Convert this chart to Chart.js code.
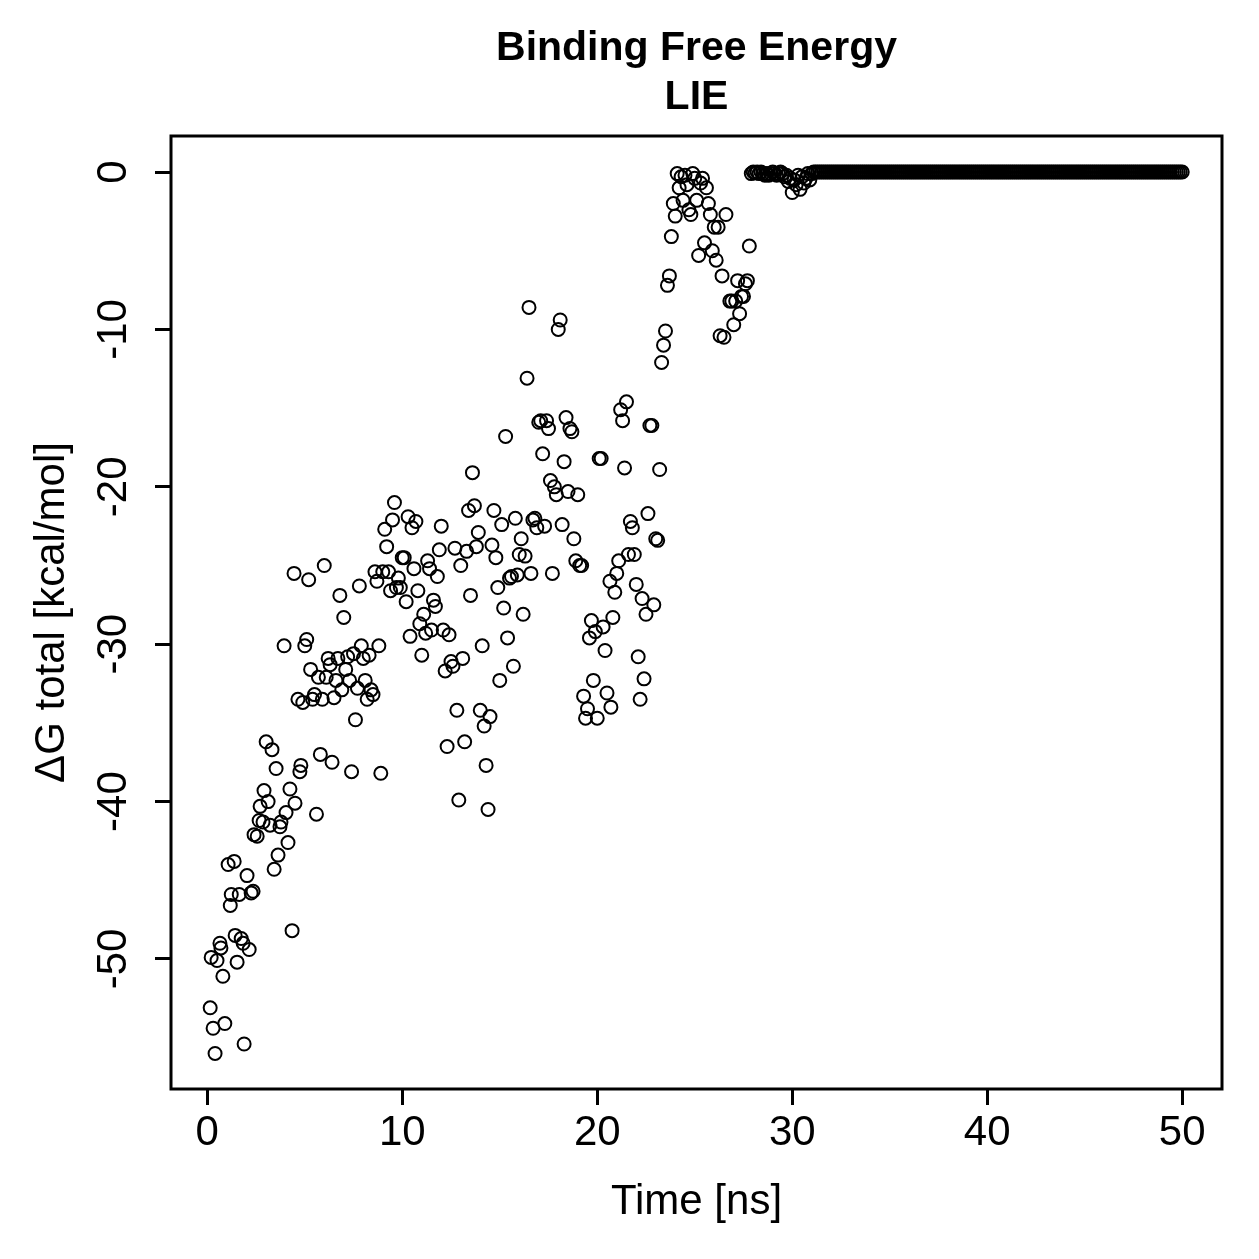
<!DOCTYPE html>
<html>
<head>
<meta charset="utf-8">
<script src="https://cdn.jsdelivr.net/npm/chart.js@4.4.0/dist/chart.umd.min.js"></script>
<style>
  body { margin: 0; background: #fff; }
  canvas { display: block; }
</style>
</head>
<body>
<canvas id="lie" width="1259" height="1259"></canvas>
<script>
// LIE binding free energy vs simulation time
var timeNs = [
  0.15, 0.3, 0.4, 0.2, 0.5, 0.65, 0.7, 0.8, 0.9, 1.07,
  1.18, 1.23, 1.38, 1.43, 1.53, 1.64, 1.74, 1.84, 1.89, 2.04,
  2.15, 2.25, 2.35, 2.4, 2.56, 2.66, 2.71, 2.86, 2.91, 3.02,
  3.12, 3.22, 3.32, 3.43, 3.53, 3.63, 3.73, 3.78, 3.94, 4.04,
  4.14, 4.24, 4.35, 4.45, 4.5, 4.65, 4.75, 4.8, 4.9, 5.0,
  5.1, 5.2, 5.3, 5.4, 5.5, 5.6, 5.7, 5.8, 5.9, 6.0,
  6.1, 6.2, 6.3, 6.4, 6.5, 6.6, 6.7, 6.8, 6.9, 7.0,
  7.1, 7.2, 7.3, 7.4, 7.5, 7.6, 7.7, 7.8, 7.9, 8.0,
  8.1, 8.2, 8.3, 8.4, 8.5, 8.6, 8.7, 8.8, 8.9, 9.0,
  9.1, 9.2, 9.3, 9.4, 9.5, 9.6, 9.7, 9.8, 9.9, 10.0,
  10.1, 10.2, 10.3, 10.4, 10.5, 10.6, 10.7, 10.8, 10.9, 11.0,
  11.1, 11.2, 11.3, 11.4, 11.5, 11.6, 11.7, 11.8, 11.9, 12.0,
  12.1, 12.2, 12.3, 12.4, 12.5, 12.6, 12.7, 12.8, 12.9, 13.0,
  13.1, 13.2, 13.3, 13.4, 13.5, 13.6, 13.7, 13.8, 13.9, 14.0,
  14.1, 14.2, 14.3, 14.4, 14.5, 14.6, 14.7, 14.8, 14.9, 15.0,
  15.1, 15.2, 15.3, 15.4, 15.5, 15.6, 15.7, 15.8, 15.9, 16.0,
  16.1, 16.2, 16.3, 16.4, 16.5, 16.6, 16.7, 16.8, 16.9, 17.0,
  17.1, 17.2, 17.3, 17.4, 17.5, 17.6, 17.7, 17.8, 17.9, 18.0,
  18.1, 18.2, 18.3, 18.4, 18.5, 18.6, 18.7, 18.8, 18.9, 19.0,
  19.1, 19.2, 19.3, 19.4, 19.5, 19.6, 19.7, 19.8, 19.9, 20.0,
  20.1, 20.2, 20.3, 20.4, 20.5, 20.65, 20.7, 20.8, 20.9, 21.0,
  21.1, 21.2, 21.3, 21.4, 21.5, 21.6, 21.7, 21.8, 21.9, 22.0,
  22.1, 22.2, 22.3, 22.4, 22.5, 22.6, 22.7, 22.8, 22.9, 23.0,
  23.1, 23.2, 23.3, 23.4, 23.5, 23.6, 23.7, 23.8, 23.9, 24.0,
  24.1, 24.2, 24.3, 24.4, 24.5, 24.6, 24.7, 24.8, 24.9, 25.0,
  25.1, 25.2, 25.3, 25.4, 25.5, 25.6, 25.7, 25.8, 25.9, 26.0,
  26.1, 26.2, 26.3, 26.4, 26.5, 26.6, 26.8, 26.9, 27.0, 27.1,
  27.2, 27.3, 27.4, 27.5, 27.6, 27.7, 27.8
];
var dgTotal = [
  -53.1, -54.4, -56.0, -49.9, -50.1, -49.0, -49.3, -51.1, -54.1, -44.0,
  -46.6, -45.9, -43.8, -48.5, -50.2, -45.9, -48.7, -49.0, -55.4, -44.7,
  -49.4, -45.8, -45.7, -42.1, -42.2, -41.2, -40.3, -41.3, -39.3, -36.2,
  -40.0, -41.5, -36.7, -44.3, -37.9, -43.4, -41.6, -41.3, -30.1, -40.7,
  -42.6, -39.2, -48.2, -25.5, -40.1, -33.5, -38.1, -37.7, -33.7, -30.1,
  -29.7, -25.9, -31.6, -33.5, -33.2, -40.8, -32.1, -37.0, -33.5, -25.0,
  -32.1, -30.9, -31.3, -37.5, -33.4, -32.3, -30.9, -26.9, -32.9, -28.3,
  -31.6, -30.8, -32.3, -38.1, -30.6, -34.8, -32.8, -26.3, -30.1, -30.9,
  -32.3, -33.5, -30.7, -32.9, -33.2, -25.4, -26.0, -30.1, -38.2, -25.4,
  -22.7, -23.8, -25.4, -26.6, -22.1, -21.0, -26.4, -25.8, -26.4, -24.5,
  -24.5, -27.3, -21.9, -29.5, -22.6, -25.2, -22.2, -26.6, -28.7, -30.7,
  -28.1, -29.3, -24.7, -25.2, -29.1, -27.2, -27.6, -25.7, -24.0, -22.5,
  -29.1, -31.7, -36.5, -29.4, -31.1, -31.4, -23.9, -34.2, -39.9, -25.0,
  -30.9, -36.2, -24.1, -21.5, -26.9, -19.1, -21.2, -23.8, -22.9, -34.2,
  -30.1, -35.2, -37.7, -40.5, -34.6, -23.7, -21.5, -24.5, -26.4, -32.3,
  -22.4, -27.7, -16.8, -29.6, -25.8, -25.7, -31.4, -22.0, -25.6, -24.3,
  -23.3, -28.1, -24.4, -13.1, -8.6, -25.5, -22.1, -22.0, -22.6, -15.9,
  -15.8, -17.9, -22.5, -15.8, -16.3, -19.6, -25.5, -20.0, -20.5, -10.0,
  -9.4, -22.4, -18.4, -15.6, -20.3, -16.3, -16.5, -23.3, -24.7, -20.5,
  -25.0, -25.0, -33.3, -34.7, -34.1, -29.6, -28.5, -32.3, -29.2, -34.7,
  -18.2, -18.2, -28.9, -30.4, -33.1, -26.0, -34.0, -28.3, -26.7, -25.5,
  -24.7, -15.1, -15.8, -18.8, -14.6, -24.3, -22.2, -22.6, -24.3, -26.2,
  -30.8, -33.5, -27.1, -32.2, -28.1, -21.7, -16.1, -16.1, -27.5, -23.3,
  -23.4, -18.9, -12.1, -11.0, -10.1, -7.2, -6.6, -4.1, -2.0, -2.8,
  -0.1, -1.0, -0.3, -1.8, -0.2, -0.8, -2.4, -2.7, -0.1, -0.4,
  -1.8, -5.3, -0.7, -0.4, -4.5, -1.0, -2.0, -2.7, -5.0, -3.5,
  -5.6, -3.5, -10.4, -6.6, -10.5, -2.7, -8.2, -8.2, -9.7, -8.2,
  -6.9, -9.0, -7.9, -7.9, -7.1, -6.9, -4.7
];
// from 27.9 ns on, one frame every 0.1 ns, sitting on zero
var tailStart = 27.9;
var tailStep = 0.1;
var dgTail = [
  -0.1, 0.0, -0.05, 0.0, -0.1, 0.0, -0.1, -0.2, -0.1, -0.2,
  -0.1, 0.0, -0.1, -0.2, -0.1, 0.0, -0.1, -0.3, -0.2, -0.6,
  -0.4, -1.3, -0.5, -0.8, -0.2, -1.1, -0.3, -0.7, -0.4, -0.1,
  -0.5, -0.1,
  0, 0, 0, 0, 0, 0, 0, 0, 0, 0,
  0, 0, 0, 0, 0, 0, 0, 0, 0, 0,
  0, 0, 0, 0, 0, 0, 0, 0, 0, 0,
  0, 0, 0, 0, 0, 0, 0, 0, 0, 0,
  0, 0, 0, 0, 0, 0, 0, 0, 0, 0,
  0, 0, 0, 0, 0, 0, 0, 0, 0, 0,
  0, 0, 0, 0, 0, 0, 0, 0, 0, 0,
  0, 0, 0, 0, 0, 0, 0, 0, 0, 0,
  0, 0, 0, 0, 0, 0, 0, 0, 0, 0,
  0, 0, 0, 0, 0, 0, 0, 0, 0, 0,
  0, 0, 0, 0, 0, 0, 0, 0, 0, 0,
  0, 0, 0, 0, 0, 0, 0, 0, 0, 0,
  0, 0, 0, 0, 0, 0, 0, 0, 0, 0,
  0, 0, 0, 0, 0, 0, 0, 0, 0, 0,
  0, 0, 0, 0, 0, 0, 0, 0, 0, 0,
  0, 0, 0, 0, 0, 0, 0, 0, 0, 0,
  0, 0, 0, 0, 0, 0, 0, 0, 0, 0,
  0, 0, 0, 0, 0, 0, 0, 0, 0, 0,
  0, 0, 0, 0, 0, 0, 0, 0, 0, 0
];
var xTicks = [0, 10, 20, 30, 40, 50];
var yTicks = [0, -10, -20, -30, -40, -50];

var fontFamily = '"Liberation Sans", Arial, Helvetica, sans-serif';

var points = [];
for (var i = 0; i < timeNs.length; i++) {
    points.push({x: timeNs[i], y: dgTotal[i]});
}
for (var j = 0; j < dgTail.length; j++) {
    points.push({x: +(tailStart + j * tailStep).toFixed(1), y: dgTail[j]});
}

// R-style box around the plot region
var frameBox = {
    id: 'frameBox',
    afterDraw: function(chart) {
        var a = chart.chartArea;
        var ctx = chart.ctx;
        ctx.save();
        ctx.strokeStyle = '#000';
        ctx.lineWidth = 3;
        ctx.strokeRect(a.left, a.top, a.right - a.left, a.bottom - a.top);
        ctx.restore();
    }
};

// y tick labels run parallel to the axis (las = 0)
var yTickLabels = {
    id: 'yTickLabels',
    afterDraw: function(chart) {
        var scale = chart.scales.y;
        var ctx = chart.ctx;
        ctx.save();
        ctx.font = '42px ' + fontFamily;
        ctx.fillStyle = '#000';
        ctx.textAlign = 'center';
        ctx.textBaseline = 'middle';
        yTicks.forEach(function(v) {
            ctx.save();
            ctx.translate(114, scale.getPixelForValue(v));
            ctx.rotate(-Math.PI / 2);
            ctx.fillText(String(v), 0, 0);
            ctx.restore();
        });
        ctx.restore();
    }
};

var ctx = document.getElementById('lie').getContext('2d');
var chart = new Chart(ctx, {
    type: 'scatter',
    data: {
        datasets: [{
            label: 'LIE',
            data: points,
            pointStyle: 'circle',
            pointRadius: 6.5,
            pointHoverRadius: 6.5,
            pointBorderWidth: 2,
            borderWidth: 2,
            borderColor: '#000',
            backgroundColor: 'rgba(0,0,0,0)'
        }]
    },
    options: {
        responsive: false,
        animation: false,
        devicePixelRatio: 1,
        layout: {
            padding: {left: 0, right: 37, top: 0, bottom: 0}
        },
        scales: {
            'x': {
                type: 'linear',
                min: -1.86,
                max: 52.04,
                afterBuildTicks: function(scale) {
                    scale.ticks = xTicks.map(function(v) { return {value: v}; });
                },
                afterFit: function(scale) {
                    scale.height = 170;
                },
                grid: {
                    drawOnChartArea: false,
                    drawTicks: true,
                    tickLength: 16,
                    lineWidth: 3,
                    color: '#000'
                },
                border: {
                    display: false
                },
                ticks: {
                    color: '#000',
                    padding: 3,
                    maxRotation: 0,
                    autoSkip: false,
                    font: {family: fontFamily, size: 42}
                },
                title: {
                    display: true,
                    text: 'Time [ns]',
                    color: '#000',
                    font: {family: fontFamily, size: 42},
                    padding: {top: 0, bottom: 31}
                }
            },
            'y': {
                type: 'linear',
                min: -58.26,
                max: 2.29,
                afterBuildTicks: function(scale) {
                    scale.ticks = yTicks.map(function(v) { return {value: v}; });
                },
                afterFit: function(scale) {
                    scale.width = 171;
                },
                grid: {
                    drawOnChartArea: false,
                    drawTicks: true,
                    tickLength: 16,
                    lineWidth: 3,
                    color: '#000'
                },
                border: {
                    display: false
                },
                ticks: {
                    display: false
                },
                title: {
                    display: true,
                    text: '\u0394G total [kcal/mol]',
                    color: '#000',
                    font: {family: fontFamily, size: 42},
                    padding: {top: 27, bottom: 0}
                }
            }
        },
        plugins: {
            legend: {display: false},
            tooltip: {enabled: false},
            title: {
                display: true,
                fullSize: false,
                text: ['Binding Free Energy', 'LIE'],
                color: '#000',
                font: {family: fontFamily, size: 41, weight: 'bold', lineHeight: 1.2},
                padding: {top: 24, bottom: 13.6}
            }
        }
    },
    plugins: [frameBox, yTickLabels]
});
</script>
</body>
</html>
